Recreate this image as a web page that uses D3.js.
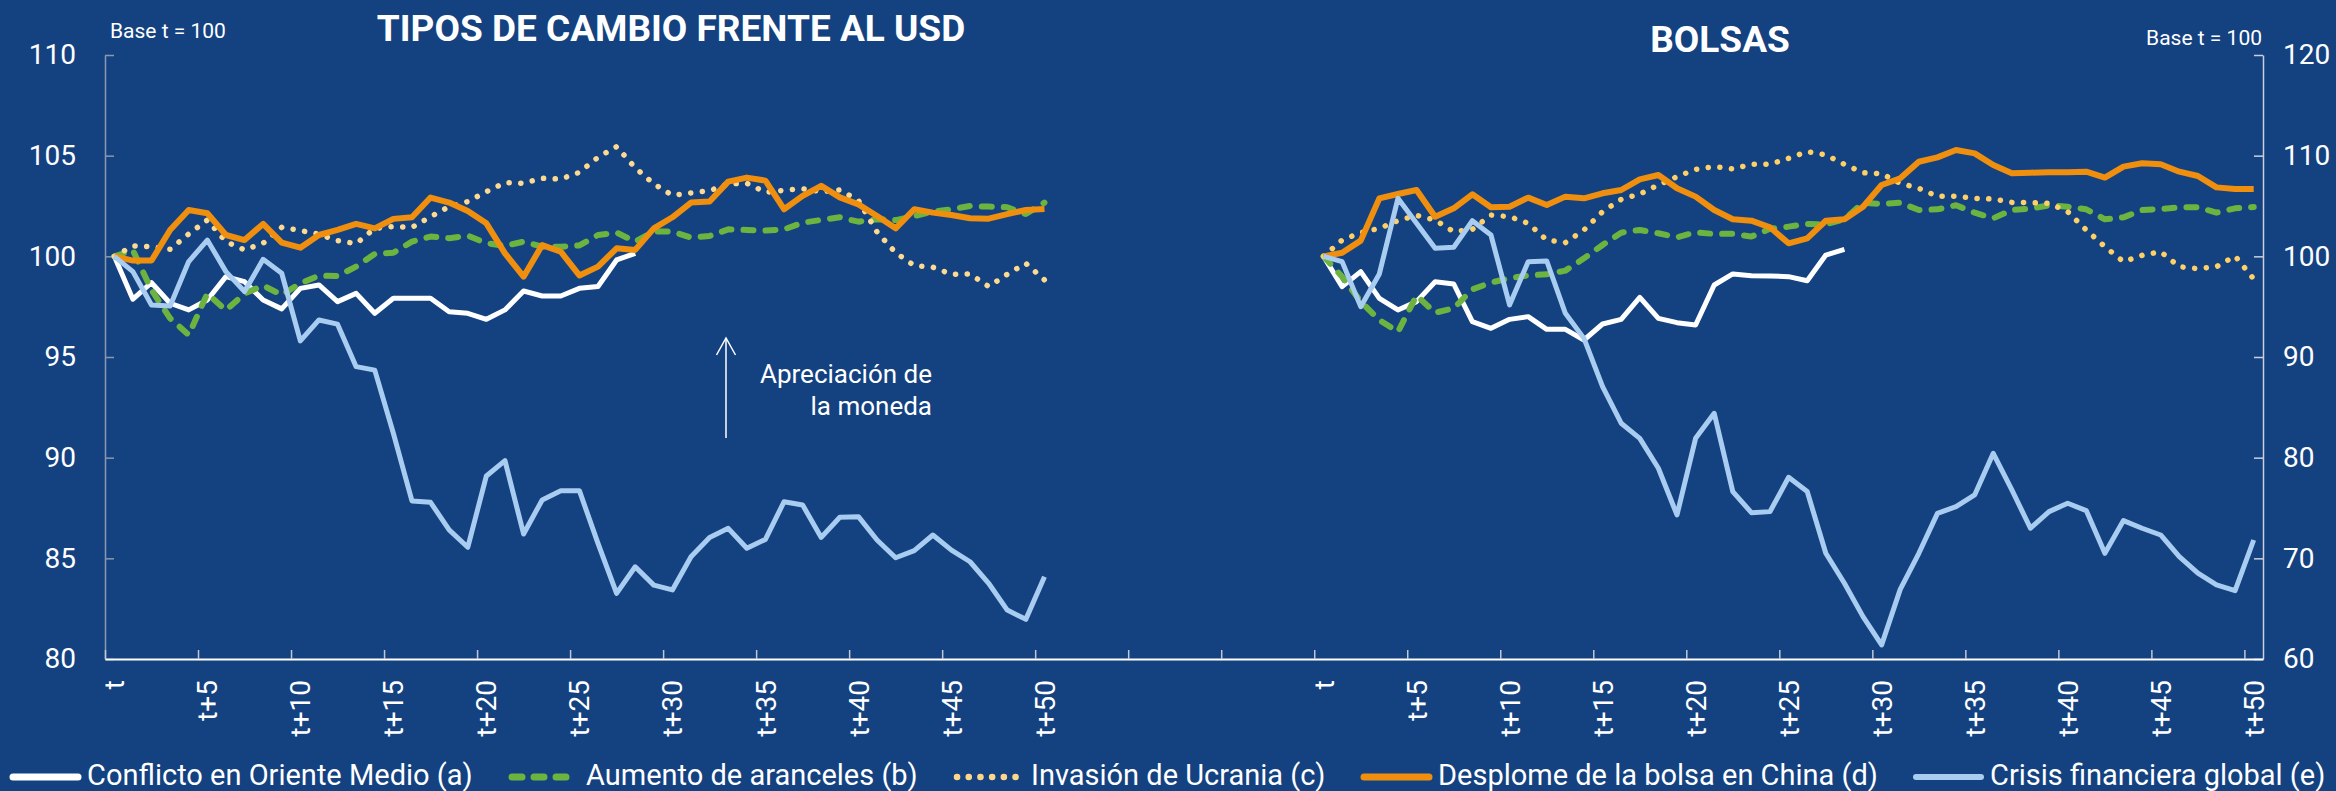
<!DOCTYPE html>
<html lang="es">
<head>
<meta charset="utf-8">
<script src="https://cdn.jsdelivr.net/npm/d3@7"></script>
<style>
  body { margin: 0; background: #144281; }
  svg { display: block; font-family: Roboto, "Open Sans", sans-serif; }
</style>
</head>
<body>
<svg id="chart" width="2336" height="791"></svg>
<script>
// ---- data (index 0 = t, 1 = t+1 ...) ----
const tickKeys = [0, 5, 10, 15, 20, 25, 30, 35, 40, 45, 50];
const tickLabels = ["t", "t+5", "t+10", "t+15", "t+20", "t+25", "t+30", "t+35", "t+40", "t+45", "t+50"];
const fxTicks = [80, 85, 90, 95, 100, 105, 110];
const stTicks = [60, 70, 80, 90, 100, 110, 120];

const seriesNames = ["Conflicto en Oriente Medio (a)", "Aumento de aranceles (b)", "Invasión de Ucrania (c)",
  "Desplome de la bolsa en China (d)", "Crisis financiera global (e)"];

// tipos de cambio frente al USD
const fxConflicto = [100, 97.87, 98.69, 97.67, 97.34, 97.83, 98.99, 98.74, 97.83, 97.39, 98.41, 98.58, 97.75, 98.16,
  97.17, 97.92, 97.92, 97.92, 97.25, 97.17, 96.87, 97.34, 98.28, 98.03, 98.03, 98.41, 98.5, 99.82, 100.15];
const fxAranceles = [100, 100.3, 98.33, 96.92, 96.1, 98.15, 97.32, 98.15, 98.55, 98.08, 98.66, 99.04, 99.02, 99.49,
  100.12, 100.18, 100.73, 100.98, 100.9, 101.03, 100.65, 100.52, 100.73, 100.48, 100.48, 100.54, 101.06, 101.18,
  100.73, 101.23, 101.23, 100.93, 101.01, 101.34, 101.31, 101.28, 101.34, 101.67, 101.81, 101.94, 101.72, 101.84,
  101.8, 102.0, 102.22, 102.34, 102.5, 102.47, 102.44, 102.1, 102.67];
const fxUcrania = [100, 100.52, 100.48, 100.35, 101.11, 101.8, 100.73, 100.32, 100.65, 101.44, 101.28, 101.1, 100.78,
  100.63, 101.39, 101.48, 101.44, 101.97, 102.47, 102.72, 103.21, 103.66, 103.63, 103.88, 103.84, 104.17, 104.92,
  105.45, 104.4, 103.6, 103.03, 103.15, 103.26, 103.6, 103.63, 103.18, 103.28, 103.36, 103.21, 103.3, 102.77,
  101.21, 100.18, 99.54, 99.46, 99.11, 99.12, 98.5, 99.11, 99.65, 98.83];
const fxChina = [100, 99.79, 99.79, 101.31, 102.3, 102.14, 101.06, 100.81, 101.61, 100.68, 100.43, 101.06, 101.31,
  101.61, 101.39, 101.86, 101.94, 102.92, 102.67, 102.25, 101.64, 100.15, 98.99, 100.56, 100.23, 99.05, 99.49,
  100.4, 100.32, 101.39, 101.94, 102.67, 102.72, 103.71, 103.91, 103.76, 102.34, 103.0, 103.5, 102.93, 102.58,
  102.0, 101.39, 102.34, 102.17, 102.05, 101.89, 101.87, 102.1, 102.3, 102.35];
const fxCrisis = [100, 99.24, 97.58, 97.53, 99.74, 100.81, 99.24, 98.25, 99.85, 99.16, 95.8, 96.84, 96.63, 94.52,
  94.35, 91.21, 87.85, 87.78, 86.41, 85.55, 89.09, 89.85, 86.21, 87.9, 88.36, 88.36, 85.74, 83.26, 84.58, 83.67,
  83.43, 85.08, 86.04, 86.49, 85.5, 85.94, 87.81, 87.65, 86.04, 87.04, 87.07, 85.91, 85.03, 85.38, 86.16, 85.41,
  84.83, 83.76, 82.43, 81.97, 84.09];

// bolsas
const stConflicto = [100, 96.99, 98.48, 95.83, 94.67, 95.5, 97.48, 97.25, 93.51, 92.85, 93.74, 94.01, 92.75, 92.75,
  91.69, 93.28, 93.74, 95.93, 93.84, 93.41, 93.18, 97.15, 98.25, 98.08, 98.05, 97.98, 97.58, 100.13, 100.7];
const stAranceles = [100, 97.98, 95.5, 93.68, 92.5, 96.1, 94.4, 94.84, 96.72, 97.39, 97.82, 98.11, 98.21, 98.58,
  99.8, 101.13, 102.35, 102.62, 102.29, 101.89, 102.39, 102.22, 102.25, 101.96, 102.73, 102.95, 103.21, 103.18,
  103.68, 105.33, 105.2, 105.33, 104.6, 104.67, 105.07, 104.34, 103.78, 104.6, 104.74, 105.07, 104.93, 104.67,
  103.68, 103.87, 104.6, 104.7, 104.87, 104.87, 104.34, 104.77, 104.9];
const stUcrania = [100, 101.62, 102.35, 102.78, 103.54, 104.07, 103.6, 102.45, 102.68, 104.1, 103.94, 103.28, 101.62,
  101.36, 102.62, 104.44, 105.66, 106.19, 107.09, 107.91, 108.64, 108.91, 108.68, 109.14, 109.15, 109.74, 110.4,
  110.07, 109.14, 108.31, 108.21, 107.25, 106.76, 105.96, 105.96, 105.76, 105.7, 105.36, 105.33, 105.27, 104.44,
  102.62, 100.96, 99.47, 100.1, 100.46, 98.97, 98.77, 98.97, 100.03, 97.75];
const stChina = [100, 100.36, 101.56, 105.76, 106.19, 106.59, 103.94, 104.77, 106.16, 104.87, 104.93, 105.83, 105.1,
  105.93, 105.76, 106.26, 106.59, 107.65, 108.08, 106.76, 105.93, 104.6, 103.68, 103.54, 102.88, 101.29, 101.79,
  103.54, 103.68, 104.93, 107.09, 107.75, 109.4, 109.83, 110.56, 110.23, 109.07, 108.25, 108.31, 108.35, 108.35,
  108.41, 107.82, 108.91, 109.24, 109.14, 108.41, 107.98, 106.85, 106.69, 106.69];
const stCrisis = [100, 99.47, 95.0, 98.25, 105.76, 103.28, 100.8, 100.9, 103.54, 102.12, 95.17, 99.47, 99.54, 94.34,
  91.85, 87.06, 83.42, 81.92, 78.95, 74.31, 81.92, 84.41, 76.63, 74.54, 74.64, 78.05, 76.63, 70.5, 67.52, 64.21,
  61.4, 66.92, 70.5, 74.47, 75.14, 76.3, 80.43, 76.79, 72.99, 74.64, 75.47, 74.74, 70.5, 73.75, 72.99, 72.32,
  70.17, 68.52, 67.36, 66.79, 71.82];

// ---- layout ----
const nCats = 116;        // one shared category axis: left panel 0..50, right panel 65..115
const rightStart = 65;
const bg = "#144281";

const styles = [
  { color: "#ffffff", width: 5, dash: null, cap: "butt" },
  { color: "#6db33f", width: 6, dash: "10 12", cap: "round" },
  { color: "#fdd98e", width: 5.5, dash: "0.1 11.6", cap: "round" },
  { color: "#f08f0e", width: 6, dash: null, cap: "butt" },
  { color: "#a9ccf1", width: 5, dash: null, cap: "butt" }
];

const svg = d3.select("#chart");
svg.append("rect").attr("width", 2336).attr("height", 791).attr("fill", bg);

const x = d3.scaleBand().domain(d3.range(nCats)).range([105, 2263]);
const xEdge = d3.scaleLinear().domain([0, nCats]).range([105, 2263]);
const yFx = d3.scaleLinear().domain([80, 110]).range([659, 55]);
const ySt = d3.scaleLinear().domain([60, 120]).range([659, 55]);
const cx = k => x(k) + x.bandwidth() / 2;

function styleAxis(g, col) {
  g.attr("font-family", "Roboto").attr("font-size", 28);
  g.select(".domain").attr("stroke", col).attr("stroke-width", 1.5);
  g.selectAll(".tick line").attr("stroke", col).attr("stroke-width", 1.5);
  g.selectAll(".tick text").attr("fill", "#fff");
}

// y axes
svg.append("g").attr("transform", "translate(105,0)")
  .call(d3.axisLeft(yFx).tickValues(fxTicks).tickSizeInner(-9).tickSizeOuter(0).tickPadding(29))
  .call(g => styleAxis(g, "#8b98ae"));

svg.append("g").attr("transform", "translate(2263,0)")
  .call(d3.axisRight(ySt).tickValues(stTicks).tickSizeInner(-9).tickSizeOuter(0).tickPadding(20))
  .call(g => styleAxis(g, "#c8d0de"));

// x axis line + boundary ticks
svg.append("g").attr("transform", "translate(0,659)")
  .call(d3.axisBottom(xEdge).tickValues(d3.range(0, nCats, 5)).tickSizeInner(-9).tickSizeOuter(0).tickFormat(""))
  .call(g => {
    g.select(".domain").attr("stroke", "#fff").attr("stroke-width", 2);
    g.selectAll(".tick line").attr("stroke", "#c0c8d6").attr("stroke-width", 1.5);
  });

// x labels at category centres, rotated
const labelKeys = tickKeys.concat(tickKeys.map(k => k + rightStart));
svg.append("g").attr("transform", "translate(0,659)")
  .call(d3.axisBottom(x).tickValues(labelKeys).tickSize(0)
    .tickFormat(k => tickLabels[tickKeys.indexOf(k >= rightStart ? k - rightStart : k)]))
  .call(g => {
    g.select(".domain").remove();
    g.attr("font-family", "Roboto").attr("font-size", 28);
    g.selectAll("text").attr("fill", "#fff")
      .attr("transform", "rotate(-90)").attr("text-anchor", "end")
      .attr("x", -21).attr("y", 0).attr("dy", "0.36em");
  });

// lines
function drawPanel(list, yScale, offset, yellow) {
  const line = d3.line().x((d, i) => cx(i + offset)).y(d => yScale(d));
  list.forEach((vals, s) => {
    const st = styles[s];
    svg.append("path").datum(vals)
      .attr("d", line)
      .attr("fill", "none")
      .attr("stroke", s === 2 ? yellow : st.color)
      .attr("stroke-width", st.width)
      .attr("stroke-linejoin", "round")
      .attr("stroke-linecap", st.cap)
      .attr("stroke-dasharray", st.dash);
  });
}
drawPanel([fxConflicto, fxAranceles, fxUcrania, fxChina, fxCrisis], yFx, 0, "#fdda92");
drawPanel([stConflicto, stAranceles, stUcrania, stChina, stCrisis], ySt, rightStart, "#fdd068");

// titles
svg.append("text").attr("x", 671).attr("y", 41).attr("text-anchor", "middle")
  .attr("font-size", 37).attr("font-weight", "bold").attr("fill", "#fff")
  .text("TIPOS DE CAMBIO FRENTE AL USD");
svg.append("text").attr("x", 1720).attr("y", 52).attr("text-anchor", "middle")
  .attr("font-size", 37).attr("font-weight", "bold").attr("fill", "#fff")
  .text("BOLSAS");
svg.append("text").attr("x", 110).attr("y", 38).attr("font-size", 21).attr("fill", "#fff").text("Base t = 100");
svg.append("text").attr("x", 2262).attr("y", 45).attr("text-anchor", "end")
  .attr("font-size", 21).attr("fill", "#fff").text("Base t = 100");

// annotation
svg.append("line").attr("x1", 726).attr("x2", 726).attr("y1", 438).attr("y2", 338)
  .attr("stroke", "#fff").attr("stroke-width", 1.5);
svg.append("polyline").attr("points", "716.5,355 726,338 735.5,355")
  .attr("fill", "none").attr("stroke", "#fff").attr("stroke-width", 1.5);
svg.append("text").attr("x", 932).attr("y", 383).attr("text-anchor", "end")
  .attr("font-size", 26).attr("fill", "#fff").text("Apreciación de");
svg.append("text").attr("x", 932).attr("y", 415).attr("text-anchor", "end")
  .attr("font-size", 26).attr("fill", "#fff").text("la moneda");

// legend
const legendX = [10, 509, 954, 1361, 1913];
const legend = svg.append("g").attr("transform", "translate(0,777)");
seriesNames.forEach((name, s) => {
  const st = styles[s];
  legend.append("line")
    .attr("x1", legendX[s] + 3).attr("x2", legendX[s] + (s === 1 ? 64 : 68))
    .attr("stroke", s === 2 ? "#fdd68a" : st.color)
    .attr("stroke-width", s === 0 ? 7 : st.width + 1)
    .attr("stroke-linecap", "round")
    .attr("stroke-dasharray", st.dash);
  legend.append("text").attr("x", legendX[s] + 77).attr("y", 8)
    .attr("font-size", 29).attr("fill", "#fff").text(name);
});
</script>
</body>
</html>
